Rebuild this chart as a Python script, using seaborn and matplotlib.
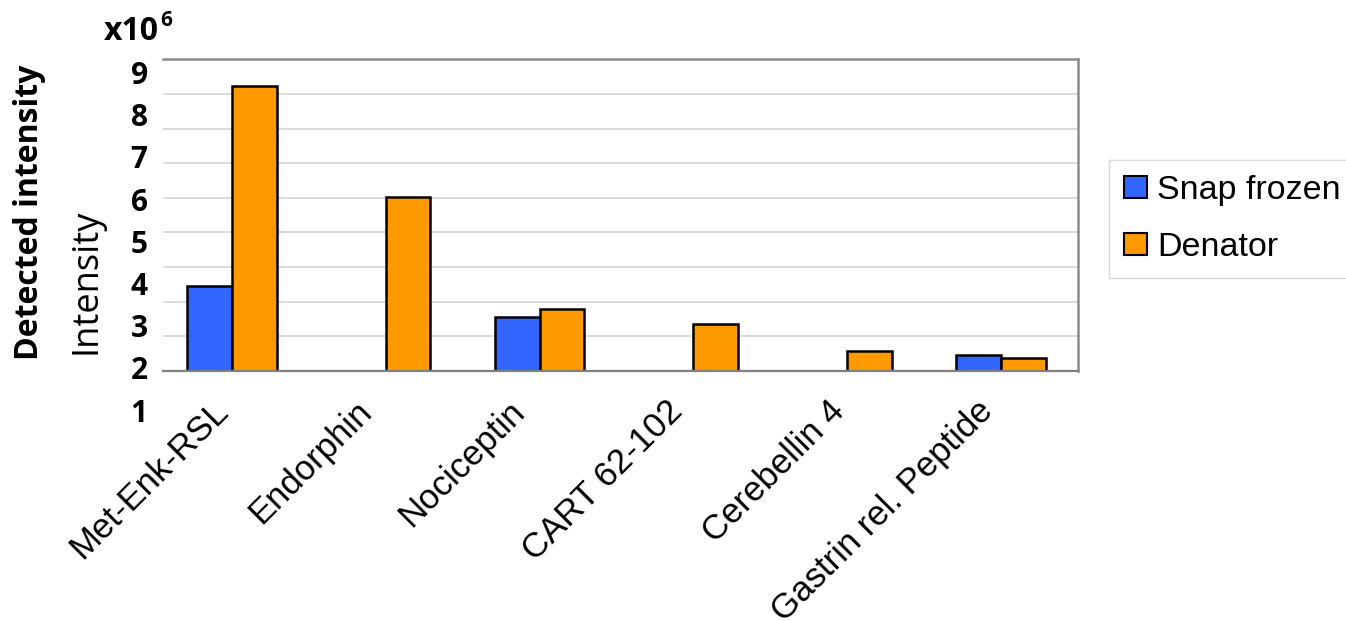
import numpy as np
import pandas as pd
import matplotlib
matplotlib.use("Agg")
import matplotlib.pyplot as plt
from matplotlib.patches import Patch
import seaborn as sns

# ---- data (intensity, x10^6) ----
peptides = ["Met-Enk-RSL", "Endorphin", "Nociceptin", "CART 62-102",
            "Cerebellin 4", "Gastrin rel. Peptide"]
snap_frozen = [3.95, np.nan, 3.20, np.nan, np.nan, 2.30]
denator = [8.68, 6.06, 3.39, 3.04, 2.40, 2.23]
series_names = ["Snap frozen", "Denator"]
ytick_values = [9, 8, 7, 6, 5, 4, 3, 2, 1]

colors = ["#3366FF", "#FF9900"]

df = pd.DataFrame({
    "peptide": peptides * 2,
    "condition": [series_names[0]] * len(peptides) + [series_names[1]] * len(peptides),
    "value": snap_frozen + denator,
})

sns.set_style("white")
plt.rcParams["font.family"] = ["Liberation Sans", "DejaVu Sans"]
plt.rcParams["text.color"] = "black"
plt.rcParams["xtick.color"] = "black"
plt.rcParams["ytick.color"] = "black"
plt.rcParams["xtick.labelcolor"] = "black"
plt.rcParams["ytick.labelcolor"] = "black"

W, H = 1346, 621
fig = plt.figure(figsize=(W / 100, H / 100), dpi=100)
ax = fig.add_axes([163 / W, 250.3 / H, 915 / W, 311.4 / H])

sns.barplot(data=df, x="peptide", y="value", hue="condition",
            order=peptides, hue_order=series_names, palette=colors,
            width=0.58, edgecolor="black", linewidth=1.8, errorbar=None,
            saturation=1, legend=False, ax=ax, zorder=3)

ylo, yhi = 1.932, 9.316
ax.set_ylim(ylo, yhi)
ax.set_xlim(-0.449, 5.5)

# gridlines (evenly spaced, as minor ticks)
ax.set_yticks(np.linspace(ylo, yhi, 10)[1:-1], minor=True)
ax.yaxis.grid(True, which="minor", color="#d4d4d4", lw=1.2, zorder=0)
ax.yaxis.grid(False, which="major")
ax.xaxis.grid(False)
ax.tick_params(axis="y", which="minor", length=0)

# y tick labels
shown = [v for v in ytick_values if ylo <= v <= yhi]
ax.set_yticks(shown)
ax.set_yticklabels([str(v) for v in shown], fontfamily="Open Sans",
                   fontweight="bold", fontsize=21.5, color="black")
ax.tick_params(axis="y", which="major", length=0, pad=11)
for v in ytick_values:
    if v < ylo:
        ax.annotate(str(v), xy=(0, v), xycoords=("axes fraction", "data"),
                    xytext=(-11, 0), textcoords="offset points",
                    ha="right", va="center_baseline", annotation_clip=False,
                    fontfamily="Open Sans", fontweight="bold", fontsize=21.5,
                    color="black")

# x tick labels (rotated); small per-label shifts (in category units)
label_shift = [-0.137, -0.205, -0.205, -0.182, -0.13, -0.16]
label_pos = [i + s for i, s in enumerate(label_shift)]
ax.set_xticks(label_pos)
ax.set_xticklabels(peptides, rotation=45, ha="right", va="top",
                   rotation_mode="anchor", fontsize=25, color="black")
ax.tick_params(axis="x", which="major", length=0, pad=17)
ax.set_xticks(np.arange(0.5, len(peptides), 1.0), minor=True)
ax.tick_params(axis="x", which="minor", length=6, width=1, color="#c8c8c8",
               direction="out")
ax.set_xlabel("")
ax.set_ylabel("")

# spines
ax.spines["left"].set_visible(False)
ax.spines["bottom"].set_color("#808080")
ax.spines["bottom"].set_linewidth(1.6)
ax.spines["bottom"].set_zorder(4)
for s in ("top", "right"):
    ax.spines[s].set_visible(True)
    ax.spines[s].set_color("#8c8c8c")
    ax.spines[s].set_linewidth(1.8)

# axis titles
fig.text(30 / W, 1 - 212 / H, "Detected intensity", rotation=90,
         ha="center", va="center", fontfamily="Open Sans",
         fontweight="bold", fontsize=23, color="black")
fig.text(86 / W, 1 - 281 / H, "Intensity", rotation=90,
         ha="center", va="center", fontfamily="Open Sans", fontsize=26,
         color="black")
fig.text(104 / W, 1 - 39.5 / H, "x10", ha="left", va="baseline",
         fontfamily="Open Sans", fontweight="bold", fontsize=23,
         color="black")
fig.text(160 / W, 1 - 26 / H, "6", ha="left", va="baseline",
         fontfamily="Open Sans", fontweight="bold", fontsize=15,
         color="black")

# legend
handles = [Patch(facecolor=c, edgecolor="black", linewidth=1.5) for c in colors]
leg = ax.legend(handles, series_names, loc="upper left",
                bbox_to_anchor=(1109 / W, 1 - 160 / H),
                bbox_transform=fig.transFigure, borderaxespad=0,
                fontsize=24.5, frameon=True, fancybox=False, framealpha=1,
                handlelength=0.68, handleheight=0.62, handletextpad=0.28,
                labelspacing=0.75, borderpad=0.45)
leg.get_frame().set_edgecolor("#d9d9d9")
leg.get_frame().set_linewidth(1)
for t in leg.get_texts():
    t.set_color("black")

fig.savefig("out.png", dpi=100)
